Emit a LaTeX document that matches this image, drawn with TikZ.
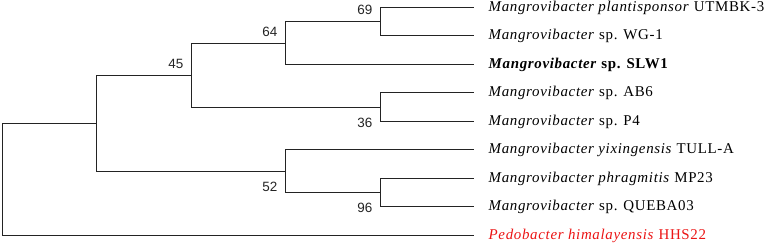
\documentclass[tikz,border=0pt]{standalone}
\usepackage{fontspec}
\setmainfont{Liberation Serif}[LetterSpace=4.5]
\newfontfamily\bootfont{Liberation Sans}
\usetikzlibrary{positioning, calc}
\definecolor{branchc}{RGB}{35,35,35}
\definecolor{outgrp}{RGB}{235,20,20}

\begin{document}
\begin{tikzpicture}[
		x=1bp, y=-1bp,
		branch/.style={draw=branchc, line width=1.1bp},
		taxon/.style={font=\fontsize{15}{17}\selectfont, inner sep=0pt, anchor=west},
		boot/.style={font=\bootfont\fontsize{13.5}{15}\selectfont, inner sep=0pt, text=branchc}
	]
		\useasboundingbox (0,0) rectangle (768,244);
		% leaf tips
		\coordinate (t1) at (473.5,7.5);
		\coordinate (t2) at (473.5,35.5);
		\coordinate (t3) at (473.5,64.5);
		\coordinate (t4) at (473.5,92.5);
		\coordinate (t5) at (473.5,121.5);
		\coordinate (t6) at (473.5,149.5);
		\coordinate (t7) at (473.5,178.5);
		\coordinate (t8) at (473.5,206.5);
		\coordinate (t9) at (473.5,235.5);
		% internal nodes
		\coordinate (n69) at (380.5,21.5);
		\coordinate (n36) at (380.5,107.5);
		\coordinate (n96) at (380.5,192.5);
		\coordinate (n64) at (285.5,43.5);
		\coordinate (n52) at (285.5,171.5);
		\coordinate (n45) at (191.5,75.5);
		\coordinate (nA) at (96.5,123.5);
		\coordinate (root) at (2.5,123.5);
		% taxa
		\node[taxon, right=15bp of t1] (l1) {\textit{Mangrovibacter plantisponsor} UTMBK-3};
		\node[taxon, right=15bp of t2] (l2) {\textit{Mangrovibacter} sp. WG-1};
		\node[taxon, right=15bp of t3] (l3) {\textbf{\textit{Mangrovibacter} sp. SLW1}};
		\node[taxon, right=15bp of t4] (l4) {\textit{Mangrovibacter} sp. AB6};
		\node[taxon, right=15bp of t5] (l5) {\textit{Mangrovibacter} sp. P4};
		\node[taxon, right=15bp of t6] (l6) {\textit{Mangrovibacter yixingensis} TULL-A};
		\node[taxon, right=15bp of t7] (l7) {\textit{Mangrovibacter phragmitis} MP23};
		\node[taxon, right=15bp of t8] (l8) {\textit{Mangrovibacter} sp. QUEBA03};
		\node[taxon, outgrp, right=15bp of t9] (l9) {\textit{Pedobacter himalayensis} HHS22};
		% branches
		\draw[branch] (t1) -| (n69) |- (t2);
		\draw[branch] (t4) -| (n36) |- (t5);
		\draw[branch] (t7) -| (n96) |- (t8);
		\draw[branch] (n69) -| (n64) |- (t3);
		\draw[branch] (t6) -| (n52) |- (n96);
		\draw[branch] (n64) -| (n45) |- (n36);
		\draw[branch] (n45) -| (nA) |- (n52);
		\draw[branch] (nA) -- (root) |- (t9);
		% bootstrap values
		\node[boot, anchor=south east] (b69) at ($(n69)+(-8,-7)$) {69};
		\node[boot, anchor=south east] (b64) at ($(n64)+(-8,-7)$) {64};
		\node[boot, anchor=south east] (b45) at ($(n45)+(-8,-7)$) {45};
		\node[boot, anchor=north east] (b36) at ($(n36)+(-8,10)$) {36};
		\node[boot, anchor=north east] (b52) at ($(n52)+(-8,10)$) {52};
		\node[boot, anchor=north east] (b96) at ($(n96)+(-8,10)$) {96};
	\end{tikzpicture}
\end{document}
